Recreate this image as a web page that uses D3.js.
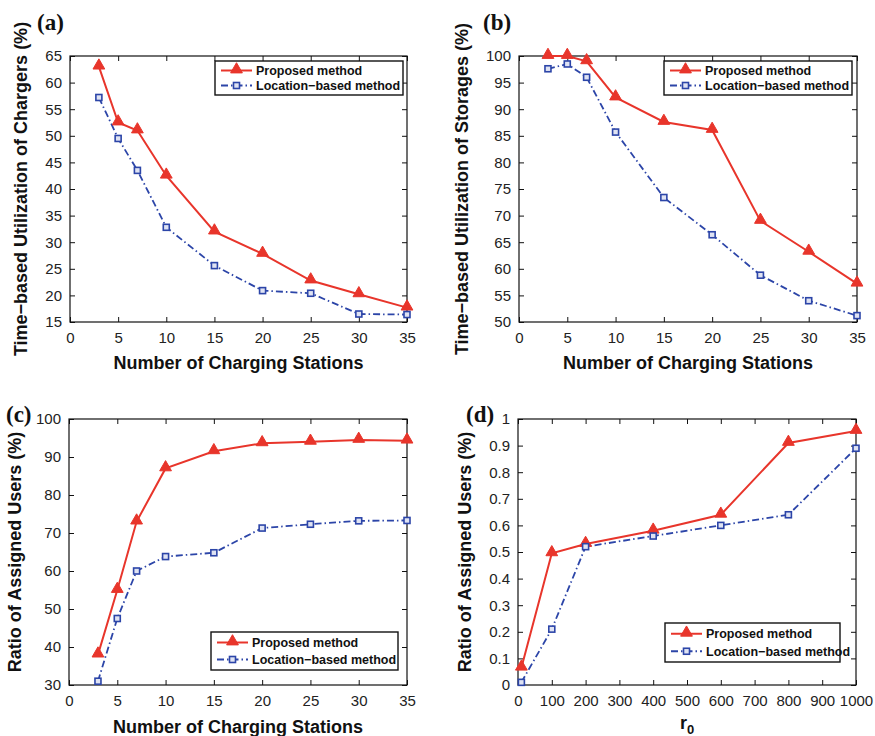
<!DOCTYPE html>
<html>
<head>
<meta charset="utf-8">
<script src="https://cdn.jsdelivr.net/npm/d3@7"></script>
<style>
  body { margin: 0; background: #fff; }
  svg { display: block; }
</style>
</head>
<body>
<script>
const width = 875;
const height = 736;

// data
const stations = [3, 5, 7, 10, 15, 20, 25, 30, 35];
const radii = [10, 100, 200, 400, 600, 800, 1000];

const chargersProposed = [63, 52.5, 51, 42.5, 32, 27.8, 22.8, 20.2, 17.7];
const chargersLocation = [57.2, 49.5, 43.5, 32.8, 25.6, 20.9, 20.4, 16.5, 16.4];

const storagesProposed = [100, 100, 99, 92.2, 87.6, 86.1, 69, 63.2, 57.2];
const storagesLocation = [97.6, 98.5, 96, 85.7, 73.4, 66.4, 58.8, 54, 51.2];

const assignedProposed = [38, 55, 73, 87, 91.5, 93.6, 94, 94.5, 94.3];
const assignedLocation = [31, 47.5, 60, 63.8, 64.8, 71.3, 72.3, 73.2, 73.3];

const radiusProposed = [0.065, 0.495, 0.53, 0.58, 0.64, 0.91, 0.955];
const radiusLocation = [0.01, 0.21, 0.52, 0.56, 0.60, 0.64, 0.89];

const seriesNames = ["Proposed method", "Location\u2212based method"];

const red = "#e8352b";
const blue = "#2c45a8";

const panels = [
  {
    tag: "(a)", box: [70, 56, 407, 322],
    xs: stations, ys: [chargersProposed, chargersLocation],
    xDomain: [0, 35], xTicks: d3.range(0, 36, 5),
    yDomain: [15, 65], yTicks: d3.range(15, 66, 5),
    xLabel: "Number of Charging Stations", xLabelY: 369,
    yLabel: "Time\u2212based Utilization of Chargers (%)", yLabelX: 27,
    tagPos: [37, 30],
    legend: [215, 61, 403, 95]
  },
  {
    tag: "(b)", box: [519, 56, 857, 322],
    xs: stations, ys: [storagesProposed, storagesLocation],
    xDomain: [0, 35], xTicks: d3.range(0, 36, 5),
    yDomain: [50, 100], yTicks: d3.range(50, 101, 5),
    xLabel: "Number of Charging Stations", xLabelY: 369,
    yLabel: "Time\u2212based Utilization of Storages (%)", yLabelX: 468,
    tagPos: [483, 30],
    legend: [664, 61, 852, 95]
  },
  {
    tag: "(c)", box: [69, 419, 407, 685],
    xs: stations, ys: [assignedProposed, assignedLocation],
    xDomain: [0, 35], xTicks: d3.range(0, 36, 5),
    yDomain: [30, 100], yTicks: d3.range(30, 101, 10),
    xLabel: "Number of Charging Stations", xLabelY: 733,
    yLabel: "Ratio of Assigned Users (%)", yLabelX: 21,
    tagPos: [6, 422],
    legend: [211, 632, 398, 670]
  },
  {
    tag: "(d)", box: [518, 419, 856, 685],
    xs: radii, ys: [radiusProposed, radiusLocation],
    xDomain: [0, 1000], xTicks: d3.range(0, 1001, 100),
    yDomain: [0, 1], yTicks: d3.range(0, 11).map((d) => d / 10),
    xLabel: "r", xSub: "0", xLabelY: 729,
    yLabel: "Ratio of Assigned Users (%)", yLabelX: 471,
    tagPos: [466, 422],
    legend: [665, 623, 840, 662]
  }
];

const svg = d3
  .select("body")
  .append("svg")
  .attr("width", width)
  .attr("height", height)
  .style("font-family", "'Liberation Sans', Arial, sans-serif");

function drawMarkers(g, pts, kind, color) {
  if (kind === 0) {
    // filled triangles for the proposed method
    g.selectAll(null)
      .data(pts)
      .enter()
      .append("path")
      .attr("d", d3.symbol(d3.symbolTriangle, 60))
      .attr("transform", (d) => `translate(${d[0]},${d[1] - 1})`)
      .attr("fill", color)
      .attr("stroke", color)
      .attr("stroke-width", 1);
  } else {
    // small open squares for the location-based method
    g.selectAll(null)
      .data(pts)
      .enter()
      .append("rect")
      .attr("x", (d) => d[0] - 3)
      .attr("y", (d) => d[1] - 3)
      .attr("width", 6)
      .attr("height", 6)
      .attr("fill", "#dfe3f3")
      .attr("stroke", color)
      .attr("stroke-width", 1.6);
  }
}

panels.forEach((p) => {
  const [x0, y0, x1, y1] = p.box;
  const x = d3.scaleLinear().domain(p.xDomain).range([x0, x1]);
  const y = d3.scaleLinear().domain(p.yDomain).range([y1, y0]);
  const g = svg.append("g");

  g.append("rect")
    .attr("x", x0).attr("y", y0)
    .attr("width", x1 - x0).attr("height", y1 - y0)
    .attr("fill", "white")
    .attr("stroke", "#111")
    .attr("stroke-width", 1.2);

  // inward ticks, mirrored on top/right (matlab style)
  const tk = 5;
  const bottom = g.append("g").attr("transform", `translate(0,${y1})`)
    .call(d3.axisBottom(x).tickValues(p.xTicks).tickSizeInner(-tk).tickSizeOuter(0).tickPadding(10).tickFormat(d3.format("d")));
  const top = g.append("g").attr("transform", `translate(0,${y0})`)
    .call(d3.axisTop(x).tickValues(p.xTicks).tickSizeInner(-tk).tickSizeOuter(0).tickFormat(""));
  const left = g.append("g").attr("transform", `translate(${x0},0)`)
    .call(d3.axisLeft(y).tickValues(p.yTicks).tickSizeInner(-tk).tickSizeOuter(0).tickPadding(8).tickFormat((d) => (p.yDomain[1] === 1 ? d3.format("")(+d.toFixed(1)) : d)));
  const right = g.append("g").attr("transform", `translate(${x1},0)`)
    .call(d3.axisRight(y).tickValues(p.yTicks).tickSizeInner(-tk).tickSizeOuter(0).tickFormat(""));

  [bottom, top, left, right].forEach((a) => {
    a.select(".domain").remove();
    a.selectAll("line").attr("stroke", "#111");
    a.selectAll("text")
      .attr("fill", "#222")
      .style("font-size", "15px")
      .style("font-family", "'Liberation Sans', Arial, sans-serif");
  });

  const line = d3.line().x((d) => d[0]).y((d) => d[1]);
  p.ys.forEach((vals, i) => {
    const pts = p.xs.map((xv, j) => [x(xv), y(vals[j])]);
    g.append("path")
      .attr("d", line(pts))
      .attr("fill", "none")
      .attr("stroke", i === 0 ? red : blue)
      .attr("stroke-width", i === 0 ? 2 : 1.8)
      .attr("stroke-dasharray", i === 0 ? null : "7,3,1.5,3");
  });
  p.ys.forEach((vals, i) => {
    const pts = p.xs.map((xv, j) => [x(xv), y(vals[j])]);
    drawMarkers(g, pts, i, i === 0 ? red : blue);
  });

  // legend
  const [lx0, ly0, lx1, ly1] = p.legend;
  const lg = g.append("g");
  lg.append("rect")
    .attr("x", lx0).attr("y", ly0)
    .attr("width", lx1 - lx0).attr("height", ly1 - ly0)
    .attr("fill", "white")
    .attr("stroke", "#111")
    .attr("stroke-width", 1.4);
  const rowH = (ly1 - ly0) / 2;
  seriesNames.forEach((name, i) => {
    const cy = ly0 + rowH * (i + 0.5) + (i === 0 ? 1 : -1);
    const color = i === 0 ? red : blue;
    lg.append("line")
      .attr("x1", lx0 + 6).attr("x2", lx0 + 37)
      .attr("y1", cy).attr("y2", cy)
      .attr("stroke", color)
      .attr("stroke-width", i === 0 ? 2 : 1.8)
      .attr("stroke-dasharray", i === 0 ? null : "7,3,1.5,3");
    drawMarkers(lg, [[lx0 + 21.5, cy]], i, color);
    lg.append("text")
      .attr("x", lx0 + 41)
      .attr("y", cy)
      .attr("dy", "0.36em")
      .attr("fill", "#111")
      .style("font-size", "12.5px")
      .style("font-weight", "bold")
      .text(name);
  });

  // axis titles
  const xt = g.append("text")
    .attr("x", (x0 + x1) / 2)
    .attr("y", p.xLabelY)
    .attr("text-anchor", "middle")
    .attr("fill", "#111")
    .style("font-size", "18px")
    .style("font-weight", "bold")
    .text(p.xLabel);
  if (p.xSub) {
    xt.append("tspan").attr("dy", 5).style("font-size", "13px").text(p.xSub);
  }
  g.append("text")
    .attr("transform", `translate(${p.yLabelX},${(y0 + y1) / 2}) rotate(-90)`)
    .attr("text-anchor", "middle")
    .attr("fill", "#111")
    .style("font-size", "18px")
    .style("font-weight", "bold")
    .text(p.yLabel);

  // panel tag
  g.append("text")
    .attr("x", p.tagPos[0])
    .attr("y", p.tagPos[1])
    .attr("fill", "#111")
    .style("font-family", "'Liberation Serif', 'Times New Roman', serif")
    .style("font-size", "23px")
    .style("font-weight", "bold")
    .text(p.tag);
});
</script>
</body>
</html>
